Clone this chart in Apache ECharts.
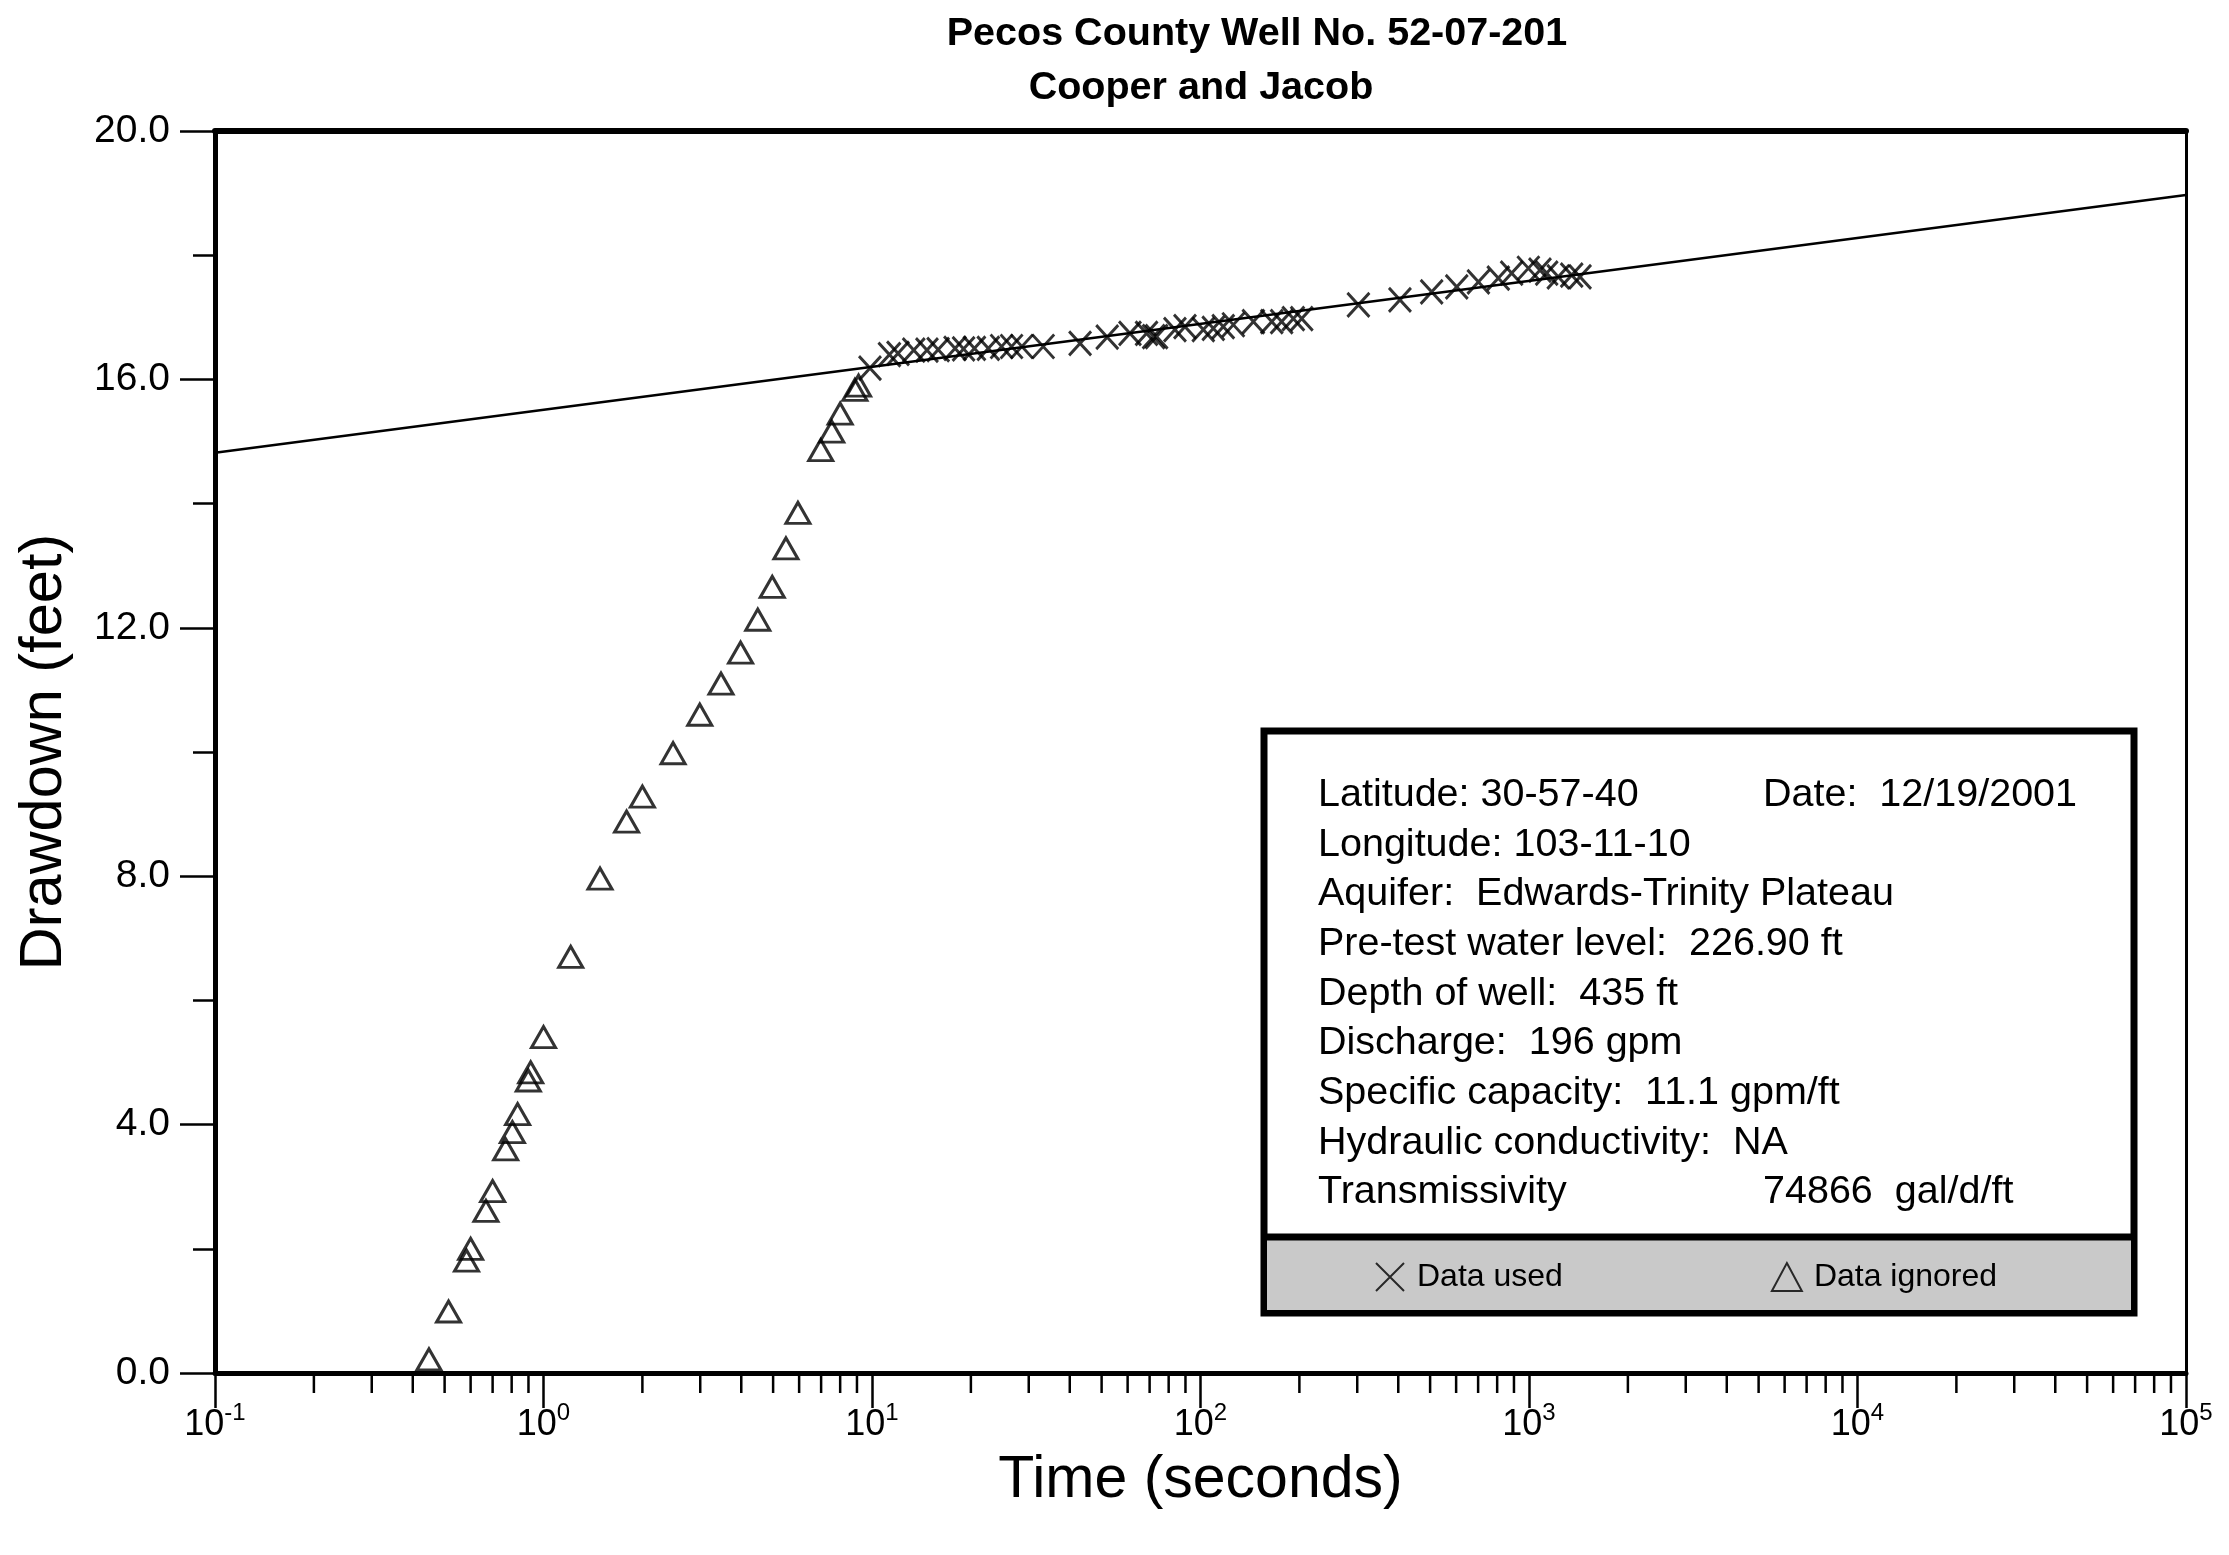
<!DOCTYPE html>
<html>
<head>
<meta charset="utf-8">
<script src="https://cdn.jsdelivr.net/npm/echarts@6/dist/echarts.min.js"></script>
<style>
  html, body { margin: 0; padding: 0; background: #fff; }
  #chart { width: 2229px; height: 1555px; }
</style>
</head>
<body>
<div id="chart"></div>
<script>
// data used in the fit (crosses)
const usedTime = [9.86, 11.3, 12.0, 13.4, 14.7, 15.9, 17.9, 19.0, 20.5, 22.6, 24.8, 26.6, 28.6, 33.2, 43, 52, 61, 68.5, 72, 73.5, 83.6, 89.7, 102, 109.4, 117.3, 125.9, 144.9, 164.8, 176.6, 191.7, 203.3, 302.5, 404.7, 505.5, 602.6, 701.5, 806.5, 885.6, 995.6, 1080, 1132, 1228, 1349, 1430]
const usedDrawdown = [16.18, 16.40, 16.42, 16.47, 16.47, 16.48, 16.50, 16.49, 16.50, 16.50, 16.53, 16.53, 16.53, 16.53, 16.58, 16.68, 16.74, 16.74, 16.69, 16.69, 16.80, 16.85, 16.80, 16.82, 16.85, 16.88, 16.93, 16.93, 16.93, 16.98, 16.98, 17.20, 17.28, 17.41, 17.49, 17.57, 17.63, 17.71, 17.79, 17.76, 17.71, 17.65, 17.68, 17.65]

// early data ignored (triangles)
const ignoredTime = [0.448, 0.514, 0.583, 0.60, 0.668, 0.70, 0.767, 0.804, 0.834, 0.899, 0.914, 1.0, 1.21, 1.486, 1.79, 2.0, 2.48, 2.99, 3.47, 3.98, 4.49, 4.97, 5.47, 5.95, 6.98, 7.54, 8.0, 8.87, 9.1]
const ignoredDrawdown = [0.22, 0.99, 1.81, 2.00, 2.61, 2.93, 3.60, 3.88, 4.17, 4.71, 4.84, 5.41, 6.70, 7.96, 8.88, 9.28, 9.98, 10.6, 11.1, 11.6, 12.13, 12.66, 13.28, 13.85, 14.86, 15.16, 15.45, 15.83, 15.9]

// Cooper-Jacob straight line
const fitTime = [0.1, 100000]
const fitDrawdown = [14.82, 18.97]

// log axis minor ticks (2..9 in each decade)
const decades = [0.1, 1, 10, 100, 1000, 10000]
const minorSteps = [2, 3, 4, 5, 6, 7, 8, 9]

const infoLeft = [
  'Latitude: 30-57-40',
  'Longitude: 103-11-10',
  'Aquifer:  Edwards-Trinity Plateau',
  'Pre-test water level:  226.90 ft',
  'Depth of well:  435 ft',
  'Discharge:  196 gpm',
  'Specific capacity:  11.1 gpm/ft',
  'Hydraulic conductivity:  NA',
  'Transmissivity'
]
const infoRight = ['Date:  12/19/2001', '', '', '', '', '', '', '', '74866  gal/d/ft']

const FONT = '"Liberation Sans", Arial, Helvetica, sans-serif'

const zip = (a, b) => a.map((v, i) => [v, b[i]])
const minorTicks = []
decades.forEach(d => minorSteps.forEach(s => minorTicks.push([+(d * s).toPrecision(3), 0])))

const infoGraphics = []
infoLeft.forEach((t, i) => {
  infoGraphics.push({type: 'text', z: 5, x: 1318, y: 795 + i * 49.7,
    style: {text: t, fill: '#000', fontSize: 39.5, fontFamily: FONT, verticalAlign: 'middle'}})
  if (infoRight[i]) {
    infoGraphics.push({type: 'text', z: 5, x: 1763, y: 795 + i * 49.7,
      style: {text: infoRight[i], fill: '#000', fontSize: 39.5, fontFamily: FONT, verticalAlign: 'middle'}})
  }
})

const chart = echarts.init(document.getElementById('chart'))

chart.setOption({
  backgroundColor: '#fff',
  animation: false,
  grid: {left: 215, right: 43, top: 131, bottom: 182},
  graphic: [
    {type: 'text', x: 1257, y: 34, style: {text: 'Pecos County Well No. 52-07-201', fill: '#000', fontSize: 39.5, fontWeight: 'bold', fontFamily: FONT, align: 'center', verticalAlign: 'middle'}},
    {type: 'text', x: 1201, y: 88, style: {text: 'Cooper and Jacob', fill: '#000', fontSize: 39.5, fontWeight: 'bold', fontFamily: FONT, align: 'center', verticalAlign: 'middle'}},
    {type: 'rect', z: 3, shape: {x: 1264, y: 731, width: 870, height: 582}, style: {fill: '#fff', stroke: '#000', lineWidth: 7}},
    {type: 'rect', z: 4, shape: {x: 1267, y: 1238, width: 864, height: 72}, style: {fill: '#c9c9c9'}},
    {type: 'line', z: 4, shape: {x1: 1264, y1: 1237, x2: 2134, y2: 1237}, style: {stroke: '#000', lineWidth: 7}},
    ...infoGraphics
  ],
  legend: {
    data: ['Data used', 'Data ignored'],
    left: 1370, top: 1256, z: 10,
    itemWidth: 30, itemHeight: 28, itemGap: 208,
    textStyle: {fontSize: 32, color: '#000', fontFamily: FONT, padding: [0, 0, 0, 7]}
  },
  xAxis: [
    {
      type: 'log', logBase: 10, min: 0.1, max: 100000,
      name: 'Time (seconds)', nameLocation: 'middle', nameGap: 78,
      nameTextStyle: {fontSize: 59, color: '#000', fontFamily: FONT},
      axisLine: {onZero: false, lineStyle: {color: '#000', width: 5}},
      axisTick: {length: 35, lineStyle: {color: '#000', width: 2.5}},
      splitLine: {show: false},
      axisLabel: {
        margin: 28,
        formatter: v => '{b|10}{s|' + Math.round(Math.log10(v)) + '}',
        rich: {
          b: {fontSize: 36, fontFamily: FONT, color: '#000', lineHeight: 42, verticalAlign: 'bottom'},
          s: {fontSize: 24, fontFamily: FONT, color: '#000', lineHeight: 24, verticalAlign: 'top'}
        }
      }
    },
    {
      type: 'log', logBase: 10, min: 0.1, max: 100000, position: 'top',
      axisLine: {show: true, onZero: false, lineStyle: {color: '#000', width: 6}},
      axisTick: {show: false}, axisLabel: {show: false}, splitLine: {show: false}
    }
  ],
  yAxis: [
    {
      type: 'value', min: 0, max: 20, interval: 4,
      name: 'Drawdown (feet)', nameLocation: 'middle', nameGap: 140,
      nameTextStyle: {fontSize: 59.5, color: '#000', fontFamily: FONT},
      axisLine: {show: true, onZero: false, lineStyle: {color: '#000', width: 5}},
      axisTick: {show: true, length: 35, lineStyle: {color: '#000', width: 2.5}},
      minorTick: {show: true, splitNumber: 2, length: 22, lineStyle: {color: '#000', width: 2.5}},
      splitLine: {show: false},
      axisLabel: {margin: 45, fontSize: 39, color: '#000', fontFamily: FONT, formatter: v => v.toFixed(1)}
    },
    {
      type: 'value', min: 0, max: 20, position: 'right',
      axisLine: {show: true, onZero: false, lineStyle: {color: '#000', width: 3}},
      axisTick: {show: false}, axisLabel: {show: false}, splitLine: {show: false}
    }
  ],
  series: [
    {
      name: 'minor ticks', type: 'custom', silent: true, clip: false,
      data: minorTicks,
      renderItem: (params, api) => {
        const p = api.coord([api.value(0), 0])
        return {type: 'line', shape: {x1: p[0], y1: p[1], x2: p[0], y2: p[1] + 20},
          style: {stroke: '#000', lineWidth: 2.5}}
      }
    },
    {
      name: 'fit', type: 'line', data: zip(fitTime, fitDrawdown),
      showSymbol: false, silent: true,
      lineStyle: {color: '#000', width: 2.5}
    },
    {
      name: 'Data ignored', type: 'scatter', data: zip(ignoredTime, ignoredDrawdown),
      symbol: 'triangle', symbolSize: [24, 21],
      itemStyle: {color: 'rgba(0,0,0,0)', borderColor: '#000', borderWidth: 3}
    },
    {
      name: 'Data used', type: 'scatter', data: zip(usedTime, usedDrawdown),
      symbol: 'path://M0,0L10,10M10,0L0,10', symbolSize: [22, 24],
      itemStyle: {color: 'rgba(0,0,0,0)', borderColor: '#000', borderWidth: 3}
    }
  ]
})
</script>
</body>
</html>
